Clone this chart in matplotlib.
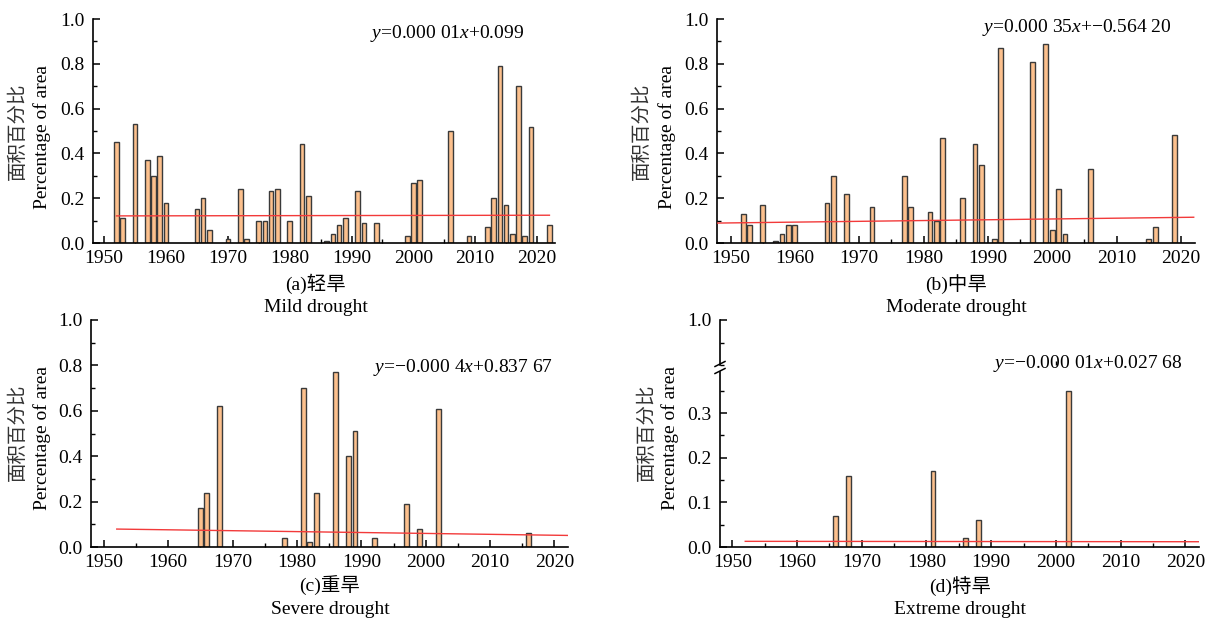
import numpy as np
import matplotlib.pyplot as plt
from matplotlib.ticker import MultipleLocator, FormatStrFormatter
from matplotlib.lines import Line2D

# ------ polices ------
plt.rcParams['font.family'] = ['Liberation Serif', 'Noto Sans CJK SC']
plt.rcParams['mathtext.fontset'] = 'custom'
plt.rcParams['mathtext.rm'] = 'Liberation Serif'
plt.rcParams['mathtext.it'] = 'Liberation Serif:italic'
plt.rcParams['font.size'] = 14

# ------ donnees ------
annees_a = [1952, 1953, 1955, 1957, 1958, 1959, 1960, 1965, 1966, 1967, 1970, 1972,
            1973, 1975, 1976, 1977, 1978, 1980, 1982, 1983, 1986, 1987, 1988, 1989,
            1991, 1992, 1994, 1999, 2000, 2001, 2006, 2009, 2012, 2013, 2014, 2015,
            2016, 2017, 2018, 2019, 2022]
valeurs_a = [0.45, 0.11, 0.53, 0.37, 0.30, 0.39, 0.18, 0.15, 0.20, 0.06, 0.02, 0.24,
             0.02, 0.10, 0.10, 0.23, 0.24, 0.10, 0.44, 0.21, 0.01, 0.04, 0.08, 0.11,
             0.23, 0.09, 0.09, 0.03, 0.27, 0.28, 0.50, 0.03, 0.07, 0.20, 0.79, 0.17,
             0.04, 0.70, 0.03, 0.52, 0.08]

annees_b = [1952, 1953, 1955, 1957, 1958, 1959, 1960, 1965, 1966, 1968, 1972, 1977,
            1978, 1981, 1982, 1983, 1986, 1988, 1989, 1991, 1992, 1997, 1999, 2000,
            2001, 2002, 2006, 2015, 2016, 2019]
valeurs_b = [0.13, 0.08, 0.17, 0.01, 0.04, 0.08, 0.08, 0.18, 0.30, 0.22, 0.16, 0.30,
             0.16, 0.14, 0.10, 0.47, 0.20, 0.44, 0.35, 0.02, 0.87, 0.81, 0.89, 0.06,
             0.24, 0.04, 0.33, 0.02, 0.07, 0.48]

annees_c = [1965, 1966, 1968, 1978, 1981, 1982, 1983, 1986, 1988, 1989, 1992, 1997,
            1999, 2002, 2016]
valeurs_c = [0.17, 0.24, 0.62, 0.04, 0.70, 0.02, 0.24, 0.77, 0.40, 0.51, 0.04, 0.19,
             0.08, 0.61, 0.06]

annees_d = [1966, 1968, 1981, 1986, 1988, 2002]
valeurs_d = [0.07, 0.16, 0.17, 0.02, 0.06, 0.35]

# droites de tendance (extremites)
tend_x_a, tend_y_a = [1952, 2022], [0.121, 0.124]
tend_x_b, tend_y_b = [1948, 2022], [0.089, 0.115]
tend_x_c, tend_y_c = [1952, 2022], [0.079, 0.051]
tend_x_d, tend_y_d = [1952, 2022], [0.0127, 0.0118]

equations = [r"$y$=0.000 01$x$+0.099",
             r"$y$=0.000 35$x$+−0.564 20",
             r"$y$=−0.000 4$x$+0.837 67",
             r"$y$=−0.000 01$x$+0.027 68"]
titres_cn = ["(a)轻旱", "(b)中旱", "(c)重旱", "(d)特旱"]
titres_en = ["Mild drought", "Moderate drought", "Severe drought", "Extreme drought"]

# ------ figure ------
W, H = 1212, 621
fig = plt.figure(figsize=(W/100, H/100), dpi=100)

def boite(g, h, d, b):
    return [g/W, 1 - b/H, (d - g)/W, (b - h)/H]

def fx(px):
    return px/W

def fy(py):
    return 1 - py/H

couleur_barre = '#FCC08D'
couleur_bord = '#3a3a3a'
couleur_tend = '#F23A3A'

def style(ax, xlim):
    ax.set_xlim(*xlim)
    for s in ['top', 'right']:
        ax.spines[s].set_visible(False)
    for s in ['left', 'bottom']:
        ax.spines[s].set_linewidth(1.2)
    ax.xaxis.set_major_locator(MultipleLocator(10))
    ax.xaxis.set_minor_locator(MultipleLocator(5))
    ax.yaxis.set_major_formatter(FormatStrFormatter('%.1f'))
    ax.tick_params(which='major', direction='in', length=5, width=1.1)
    ax.tick_params(which='minor', direction='in', length=3, width=1.0)
    ax.tick_params(axis='x', pad=5)
    ax.tick_params(axis='y', pad=6)

def barres(ax, annees, valeurs, tx, ty):
    ax.bar(annees, valeurs, width=0.75, color=couleur_barre,
           edgecolor=couleur_bord, linewidth=1.0, zorder=2)
    ax.plot(tx, ty, color=couleur_tend, linewidth=1.0, zorder=3)

panneaux = [
    (boite(93, 19, 555, 243), (1948.2, 2022.9), annees_a, valeurs_a, tend_x_a, tend_y_a),
    (boite(717, 19, 1195, 243), (1947.9, 2022.2), annees_b, valeurs_b, tend_x_b, tend_y_b),
    (boite(91, 320, 568, 547), (1948.0, 2022.1), annees_c, valeurs_c, tend_x_c, tend_y_c),
]

for rect, xl, an, va, tx, ty in panneaux:
    ax = fig.add_axes(rect)
    barres(ax, an, va, tx, ty)
    style(ax, xl)
    ax.set_ylim(0, 1.0)
    ax.yaxis.set_major_locator(MultipleLocator(0.2))
    ax.yaxis.set_minor_locator(MultipleLocator(0.1))

# panneau (d) : axe y coupe
ax_bas = fig.add_axes(boite(720, 372, 1199, 547))
barres(ax_bas, annees_d, valeurs_d, tend_x_d, tend_y_d)
style(ax_bas, (1948.1, 2022.1))
ax_bas.set_ylim(0, 0.392)
ax_bas.yaxis.set_major_locator(MultipleLocator(0.1))
ax_bas.yaxis.set_minor_locator(MultipleLocator(0.05))

ax_haut = fig.add_axes(boite(720, 320, 1199, 365))
style(ax_haut, (1948.1, 2022.1))
ax_haut.spines['bottom'].set_visible(False)
ax_haut.set_xticks([])
ax_haut.xaxis.set_minor_locator(MultipleLocator(1000))
ax_haut.set_ylim(0.9, 1.0)
ax_haut.set_yticks([1.0])
ax_haut.yaxis.set_minor_locator(MultipleLocator(0.05))
ax_haut.patch.set_visible(False)

# traits de coupure
for yb in (364, 371):
    fig.add_artist(Line2D([fx(715), fx(725)], [fy(yb + 2.5), fy(yb - 2.5)],
                          color='black', linewidth=1.1))

# ------ textes ------
pos_eq = [(370, 33), (982, 27), (373, 368), (993, 363)]
for (px, py), eq in zip(pos_eq, equations):
    fig.text(fx(px), fy(py), eq, ha='left', va='center', fontsize=14)

pos_titre = [(316, 284, 307), (956, 284, 307), (330, 586, 609), (960, 586, 609)]
for (px, p1, p2), tcn, ten in zip(pos_titre, titres_cn, titres_en):
    fig.text(fx(px), fy(p1), tcn, ha='center', va='center', fontsize=14)
    fig.text(fx(px), fy(p2), ten, ha='center', va='center', fontsize=14)

pos_ylab = [(18, 42, 131, 137), (642, 667, 131, 137), (18, 42, 432, 438), (647, 670, 432, 438)]
for xc, xe, yc, ye in pos_ylab:
    fig.text(fx(xc), fy(yc), "面积百分比", rotation=90, ha='center', va='center',
             fontsize=14, color='#333333')
    fig.text(fx(xe), fy(ye), "Percentage of area", rotation=90, ha='center',
             va='center', fontsize=14)

fig.savefig("out.png", dpi=100)
